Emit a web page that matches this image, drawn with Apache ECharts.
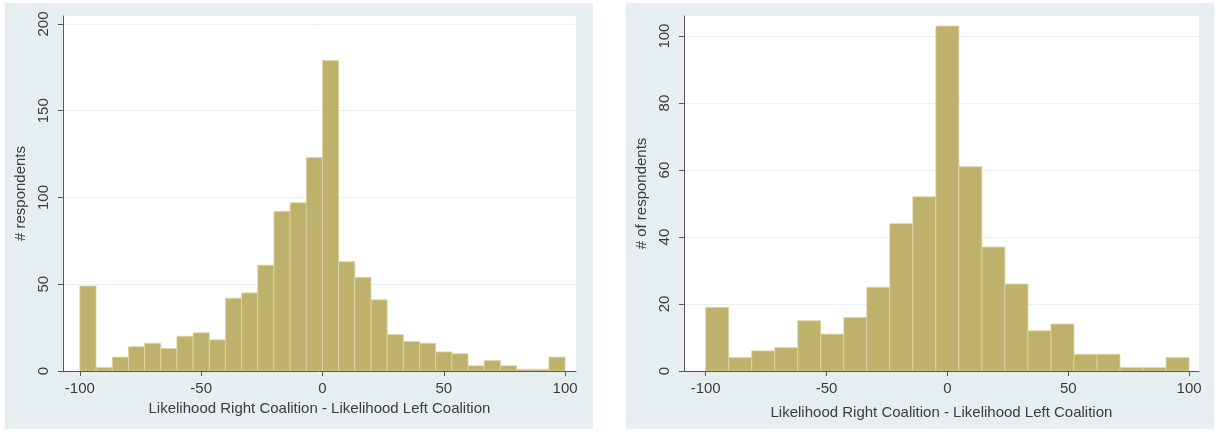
<!DOCTYPE html>
<html><head><meta charset="utf-8">
<script src="https://cdn.jsdelivr.net/npm/echarts@6/dist/echarts.min.js"></script>
<style>
html,body{margin:0;padding:0;background:#fff;width:1216px;height:432px;overflow:hidden}
.panel{position:absolute;top:3px;width:588px;height:426px;background:#e6eef0}
</style></head><body>
<div id="c1" class="panel" style="left:5px"></div>
<div id="c2" class="panel" style="left:626px"></div>
<script>
// ---- data ----
const xTicks = [-100, -50, 0, 50, 100];
const leftYTicks = [0, 50, 100, 150, 200];
const rightYTicks = [0, 20, 40, 60, 80, 100];
const leftCounts = [49, 2, 8, 14, 16, 13, 20, 22, 18, 42, 45, 61, 92, 97, 123, 179, 63, 54, 41, 21, 17, 16, 11, 10, 3, 6, 3, 1, 1, 8];
const rightCounts = [19, 4, 6, 7, 15, 11, 16, 25, 44, 52, 103, 61, 37, 26, 12, 14, 5, 5, 1, 1, 4];
const xTitle = 'Likelihood Right Coalition - Likelihood Left Coalition';
const leftYTitle = '# respondents';
const rightYTitle = '# of respondents';
const binLo = -100, binHi = 100;

const FONT = "'Liberation Sans', Arial, sans-serif";
const TXT = '#3c3c3c';
const BAR = '#bdb16b';

function toBins(counts) {
  const w = (binHi - binLo) / counts.length;
  return counts.map((c, i) => [binLo + i * w, binLo + (i + 1) * w, c]);
}

function makeOption(cfg) {
  return {
    animation: false,
    grid: { left: 56, right: cfg.gridRight, top: 13, bottom: 58, show: true, backgroundColor: '#ffffff', borderWidth: 0 },
    xAxis: {
      type: 'value', min: cfg.xMin, max: cfg.xMax,
      name: xTitle, nameLocation: 'middle', nameGap: cfg.xNameGap,
      nameTextStyle: { color: TXT, fontFamily: FONT, fontSize: 15 },
      axisLine: { show: true, onZero: false, lineStyle: { color: '#555', width: 1 } },
      axisTick: { show: true, length: 5, lineStyle: { color: '#555' }, customValues: xTicks },
      axisLabel: { color: TXT, fontFamily: FONT, fontSize: 15, margin: 10, customValues: xTicks },
      splitLine: { show: false }
    },
    yAxis: {
      type: 'value', min: 0, max: cfg.yMax,
      name: cfg.yTitle, nameLocation: 'middle', nameGap: 27, nameRotate: 90,
      nameTextStyle: { color: TXT, fontFamily: FONT, fontSize: 15 },
      axisLine: { show: true, onZero: false, lineStyle: { color: '#555', width: 1 } },
      axisTick: { show: true, length: 5, lineStyle: { color: '#555' }, customValues: cfg.yTicks },
      axisLabel: { color: TXT, fontFamily: FONT, fontSize: 15, margin: 12, rotate: 90, customValues: cfg.yTicks },
      splitLine: { show: true, lineStyle: { color: '#eaf0f2', width: 1 } }
    },
    series: [{
      type: 'custom',
      clip: true,
      data: toBins(cfg.counts),
      encode: { x: [0, 1], y: 2 },
      renderItem: function (params, api) {
        const p0 = api.coord([api.value(0), api.value(2)]);
        const p1 = api.coord([api.value(1), 0]);
        return {
          type: 'rect',
          shape: { x: p0[0], y: p0[1], width: p1[0] - p0[0], height: p1[1] - p0[1] },
          style: { fill: BAR, stroke: '#ddd6a2', lineWidth: 0.8 }
        };
      }
    }]
  };
}

const c1 = echarts.init(document.getElementById('c1'));
c1.setOption(makeOption({
  counts: leftCounts, yTicks: leftYTicks, yMax: 204.6, xMin: -107, xMax: 104.5,
  yTitle: leftYTitle, xNameGap: 25, gridRight: 17
}));
const c2 = echarts.init(document.getElementById('c2'));
c2.setOption(makeOption({
  counts: rightCounts, yTicks: rightYTicks, yMax: 106, xMin: -109, xMax: 104.1,
  yTitle: rightYTitle, xNameGap: 34, gridRight: 15
}));
</script>
</body></html>
